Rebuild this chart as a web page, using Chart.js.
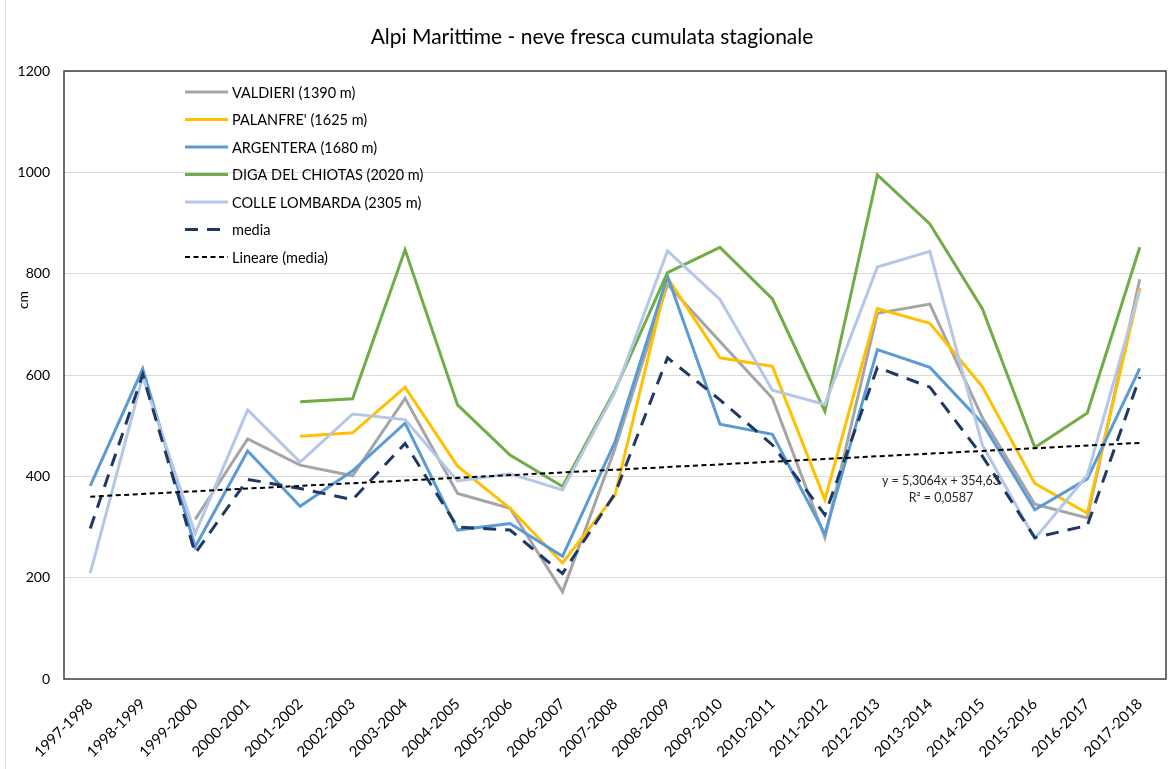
<!DOCTYPE html>
<html>
<head>
<meta charset="utf-8">
<title>Alpi Marittime - neve fresca cumulata stagionale</title>
<script src="https://cdn.jsdelivr.net/npm/chart.js@4/dist/chart.umd.min.js"></script>
<style>
  html, body { margin: 0; padding: 0; background: #fff; }
  #wrap { width: 1169px; height: 769px; position: relative; }
</style>
</head>
<body>
<div id="wrap"><canvas id="myChart" width="1169" height="769"></canvas></div>
<script>
//data (cm of fresh snow per season)
var seasons = ['1997-1998','1998-1999','1999-2000','2000-2001','2001-2002','2002-2003','2003-2004',
  '2004-2005','2005-2006','2006-2007','2007-2008','2008-2009','2009-2010','2010-2011','2011-2012',
  '2012-2013','2013-2014','2014-2015','2015-2016','2016-2017','2017-2018'];
var valdieri  = [null, null, 315, 474, 422, 401, 554, 366, 337, 172, 455, 779, 666, 554, 279, 722, 740, 516, 345, 318, 789];
var palanfre  = [null, null, null, null, 479, 486, 576, 420, 337, 229, 363, 792, 634, 617, 354, 731, 702, 577, 386, 327, 772];
var argentera = [381, 612, 261, 450, 341, 411, 505, 294, 307, 242, 468, 795, 503, 483, 286, 650, 615, 505, 334, 395, 613];
var chiotas   = [null, null, null, null, 547, 553, 847, 541, 442, 380, 570, 802, 852, 750, 528, 995, 898, 731, 457, 525, 852];
var lombarda  = [209, 597, 287, 531, 428, 523, 512, 391, 405, 373, 566, 845, 749, 570, 542, 813, 844, 462, 277, 402, 768];
var media     = [297, 601, 248, 394, 376, 354, 465, 300, 294, 208, 366, 634, 551, 462, 324, 615, 576, 440, 279, 303, 596];
var yTicks = [0, 200, 400, 600, 800, 1000, 1200];

//trendline as printed on the chart
var trendSlope = 5.3064;
var trendIntercept = 354.63;
var trendLabel = ['y = 5,3064x + 354,63', 'R\u00b2 = 0,0587'];

var FONT = "Lato, 'Open Sans', sans-serif";

//only the two ends of the trendline, the line joins them
var trend = seasons.map(function(s, i){
  if(i === 0 || i === seasons.length - 1){
    return trendIntercept + trendSlope * (i + 1);
  }
  return null;
});

function series(label, data, color, order){
  return {
    label: label,
    data: data,
    borderColor: color,
    backgroundColor: color,
    borderWidth: 3,
    pointRadius: 0,
    tension: 0,
    order: order
  };
}

var datasets = [
  series('VALDIERI (1390 m)', valdieri, '#a5a5a5', 6),
  series("PALANFRE' (1625 m)", palanfre, '#ffc000', 5),
  series('ARGENTERA (1680 m)', argentera, '#5b9bd5', 4),
  series('DIGA DEL CHIOTAS (2020 m)', chiotas, '#70ad47', 3),
  series('COLLE LOMBARDA (2305 m)', lombarda, '#b4c7e7', 2),
  Object.assign(series('media', media, '#203864', 1), {borderDash: [13, 9], borderWidth: 3}),
  Object.assign(series('Lineare (media)', trend, '#000000', 0), {borderDash: [5, 3.5], borderWidth: 2, spanGaps: true})
];

//title, y title, plot frame, legend and equation drawn on the canvas
var decorPlugin = {
  id: 'decor',
  beforeDraw: function(chart){
    var ctx = chart.ctx;
    ctx.save();
    ctx.fillStyle = '#fff';
    ctx.fillRect(0, 0, chart.width, chart.height);
    ctx.strokeStyle = '#d9d9d9';
    ctx.lineWidth = 1;
    ctx.beginPath();
    ctx.moveTo(5.5, 0);
    ctx.lineTo(5.5, chart.height);
    ctx.stroke();
    ctx.restore();
  },
  afterDraw: function(chart){
    var ctx = chart.ctx;
    var area = chart.chartArea;
    ctx.save();

    //frame round the plot area
    ctx.strokeStyle = '#404040';
    ctx.lineWidth = 1.5;
    ctx.strokeRect(area.left, area.top, area.right - area.left, area.bottom - area.top);

    //title
    ctx.fillStyle = '#000';
    ctx.textAlign = 'center';
    ctx.textBaseline = 'middle';
    ctx.font = '21px ' + FONT;
    ctx.fillText('Alpi Marittime - neve fresca cumulata stagionale', 592, 37);

    //y axis title
    ctx.save();
    ctx.translate(23, 300);
    ctx.rotate(-Math.PI / 2);
    ctx.font = '14px ' + FONT;
    ctx.fillText('cm', 0, 0);
    ctx.restore();

    //legend
    ctx.textAlign = 'left';
    ctx.font = '14.5px ' + FONT;
    chart.data.datasets.forEach(function(ds, i){
      var y = 92 + i * 27.5;
      ctx.save();
      ctx.strokeStyle = ds.borderColor;
      ctx.lineWidth = ds.borderWidth;
      ctx.setLineDash(ds.borderDash || []);
      ctx.beginPath();
      ctx.moveTo(185, y);
      ctx.lineTo(228, y);
      ctx.stroke();
      ctx.restore();
      ctx.fillStyle = '#000';
      ctx.fillText(ds.label, 232, y + 1);
    });

    //trendline equation
    ctx.textAlign = 'center';
    ctx.font = '12.5px ' + FONT;
    ctx.fillStyle = '#262626';
    ctx.fillText(trendLabel[0], 941, 481);
    ctx.fillText(trendLabel[1], 941, 498);
    ctx.restore();
  }
};

var chart = new Chart(document.getElementById('myChart'), {
  type: 'line',
  data: { labels: seasons, datasets: datasets },
  options: {
    responsive: false,
    animation: false,
    layout: { padding: { left: 0, right: 3, top: 71, bottom: 0 } },
    plugins: {
      legend: { display: false },
      title: { display: false },
      tooltip: { enabled: false }
    },
    scales: {
      x: {
        offset: true,
        grid: { display: false },
        border: { display: false },
        ticks: {
          color: '#000',
          font: { family: FONT, size: 15 },
          maxRotation: 45,
          minRotation: 45,
          autoSkip: false,
          padding: 8
        },
        afterFit: function(scale){ scale.height = 90; }
      },
      y: {
        min: 0,
        max: 1200,
        afterBuildTicks: function(scale){
          scale.ticks = yTicks.map(function(v){ return { value: v }; });
        },
        grid: { color: '#d9d9d9', lineWidth: 1, drawTicks: false },
        border: { display: false },
        ticks: {
          color: '#000',
          font: { family: FONT, size: 14 },
          padding: 14,
          callback: function(v){ return String(v); }
        },
        afterFit: function(scale){ scale.width = 64; }
      }
    }
  },
  plugins: [decorPlugin]
});
</script>
</body>
</html>
